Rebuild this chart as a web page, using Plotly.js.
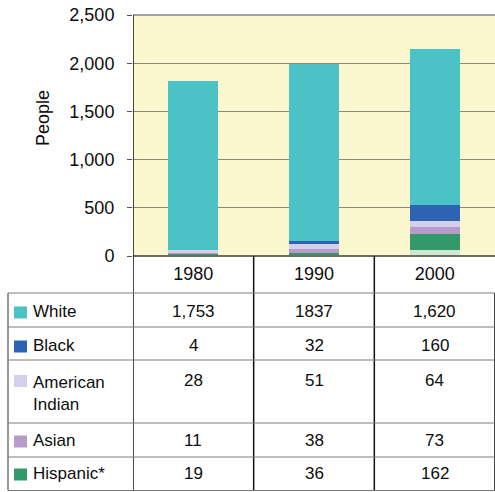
<!DOCTYPE html>
<html><head><meta charset="utf-8">
<script src="https://cdn.plot.ly/plotly-3.0.1.min.js"></script>
<style>html,body{margin:0;padding:0;background:#fff}</style>
</head><body><div id="chart" style="width:495px;height:492px"></div>
<script>
// ---- data ----
const years = ['1980', '1990', '2000'];
const seriesNames = ['White', 'Black', 'American Indian', 'Asian', 'Hispanic*'];
const white = [1753, 1837, 1620];
const black = [4, 32, 160];
const americanIndian = [28, 51, 64];
const asian = [11, 38, 73];
const hispanic = [19, 36, 162];
const other = [0, 0, 67]; // unlabelled pale segment at the base of the 2000 bar
const whiteText = ['1,753', '1837', '1,620'];
const blackText = ['4', '32', '160'];
const americanIndianText = ['28', '51', '64'];
const asianText = ['11', '38', '73'];
const hispanicText = ['19', '36', '162'];
const yTickVals = [0, 500, 1000, 1500, 2000, 2500];
const yTickText = ['0', '500', '1,000', '1,500', '2,000', '2,500'];

// ---- styles ----
const colors = {
  'White': '#4bc2c6', 'Black': '#2e63b4', 'American Indian': '#d4d0ec',
  'Asian': '#b89acb', 'Hispanic*': '#33996a', 'Other': '#cfe8d4'
};
const FONT = 'Liberation Sans, Arial, sans-serif';
const TXT = '#0d0d0d';
const FS = 17;
const W = 495, H = 492, ML = 133, MR = 0, MT = 15, MB = 236;
const PW = W - ML - MR, PH = H - MT - MB;
const px2x = p => (p - ML) / PW;
const py2y = p => (H - MB - p) / PH;

// stacking: bottom first
const stackOrder = [
  ['Other', other], ['Hispanic*', hispanic], ['Asian', asian],
  ['American Indian', americanIndian], ['Black', black], ['White', white]
];
const traces = stackOrder.map(([name, vals]) => ({
  type: 'bar', name: name, x: years, y: vals,
  marker: {color: colors[name], line: {width: 0}},
  showlegend: false, hoverinfo: 'skip'
}));

// ---- table ----
const tableRows = [
  {name: 'White', label: 'White', text: whiteText},
  {name: 'Black', label: 'Black', text: blackText},
  {name: 'American Indian', label: 'American<br>Indian', text: americanIndianText},
  {name: 'Asian', label: 'Asian', text: asianText},
  {name: 'Hispanic*', label: 'Hispanic*', text: hispanicText}
];
const rowLines = [293, 327, 360, 423, 457, 490.5];
const rowTextY = [311.5, 345.5, 380, 440.5, 473.5];   // first text line centre
const labelY = [311.5, 345.5, 393, 440.5, 473.5];
const shapes = [];
const annotations = [];

// plot frame
shapes.push({type: 'line', xref: 'paper', yref: 'paper', x0: 0, x1: 1, y0: 1, y1: 1,
  line: {color: '#a3a3a3', width: 2}});
shapes.push({type: 'line', xref: 'paper', yref: 'paper', x0: 0, x1: 1, y0: 0, y1: 0,
  line: {color: '#6e6e60', width: 2}});
// vertical column lines (category boundaries), from plot top / axis down to table bottom
shapes.push({type: 'line', xref: 'x', yref: 'paper', x0: -0.5, x1: -0.5, y0: 1, y1: py2y(rowLines[5]),
  line: {color: '#111', width: 1.5}});
[0.5, 1.5].forEach(b => shapes.push({type: 'line', xref: 'x', yref: 'paper', x0: b, x1: b,
  y0: 0, y1: py2y(rowLines[5]), line: {color: '#111', width: 1.5}}));
shapes.push({type: 'line', xref: 'paper', yref: 'paper', x0: px2x(494.5), x1: px2x(494.5),
  y0: py2y(rowLines[0]), y1: py2y(rowLines[5]), line: {color: '#444', width: 1}});
// table left border
shapes.push({type: 'line', xref: 'paper', yref: 'paper', x0: px2x(8), x1: px2x(8),
  y0: py2y(rowLines[0]), y1: py2y(rowLines[5]), line: {color: '#333', width: 1}});
// horizontal row lines
rowLines.forEach(r => shapes.push({type: 'line', xref: 'paper', yref: 'paper',
  x0: px2x(8), x1: 1, y0: py2y(r), y1: py2y(r), line: {color: '#7a7a7a', width: 1}}));

tableRows.forEach((row, i) => {
  // legend swatch
  shapes.push({type: 'rect', xref: 'paper', yref: 'paper', x0: px2x(14), x1: px2x(27),
    y0: py2y(rowTextY[i] + 7), y1: py2y(rowTextY[i] - 5),
    fillcolor: colors[row.name], line: {width: 0}});
  annotations.push({xref: 'paper', yref: 'paper', x: px2x(31), y: py2y(labelY[i]),
    xanchor: 'left', yanchor: 'middle', align: 'left', showarrow: false, text: row.label,
    font: {family: FONT, size: FS, color: TXT}});
  years.forEach((yr, j) => annotations.push({xref: 'x', yref: 'paper', x: j, y: py2y(rowTextY[i]),
    xanchor: 'center', yanchor: 'middle', showarrow: false, text: row.text[j],
    font: {family: FONT, size: FS, color: TXT}}));
});
// y-axis title
annotations.push({xref: 'paper', yref: 'paper', x: px2x(43), y: py2y(118), textangle: -90,
  xanchor: 'center', yanchor: 'middle', showarrow: false, text: 'People',
  font: {family: FONT, size: 18, color: TXT}});

const layout = {
  width: W, height: H,
  margin: {l: ML, r: MR, t: MT, b: MB, pad: 0},
  paper_bgcolor: '#ffffff', plot_bgcolor: '#fbf8cf',
  barmode: 'stack', bargap: 0.585,
  font: {family: FONT, size: FS, color: TXT},
  xaxis: {type: 'category', tickvals: years, ticktext: years, ticks: '', showline: false,
    showgrid: false, zeroline: false, tickfont: {family: FONT, size: 18, color: TXT},
    ticklabelstandoff: 5, fixedrange: true, range: [-0.5, 2.5]},
  yaxis: {range: [0, 2500], tickvals: yTickVals, ticktext: yTickText, ticks: 'outside',
    ticklen: 5, tickwidth: 1, tickcolor: '#555', showline: false, zeroline: false,
    showgrid: true, gridcolor: '#8c8b74', gridwidth: 1,
    tickfont: {family: FONT, size: 18, color: TXT}, ticklabelstandoff: 9, fixedrange: true},
  shapes: shapes, annotations: annotations
};
Plotly.newPlot('chart', traces, layout, {staticPlot: true, displayModeBar: false});
</script></body></html>
